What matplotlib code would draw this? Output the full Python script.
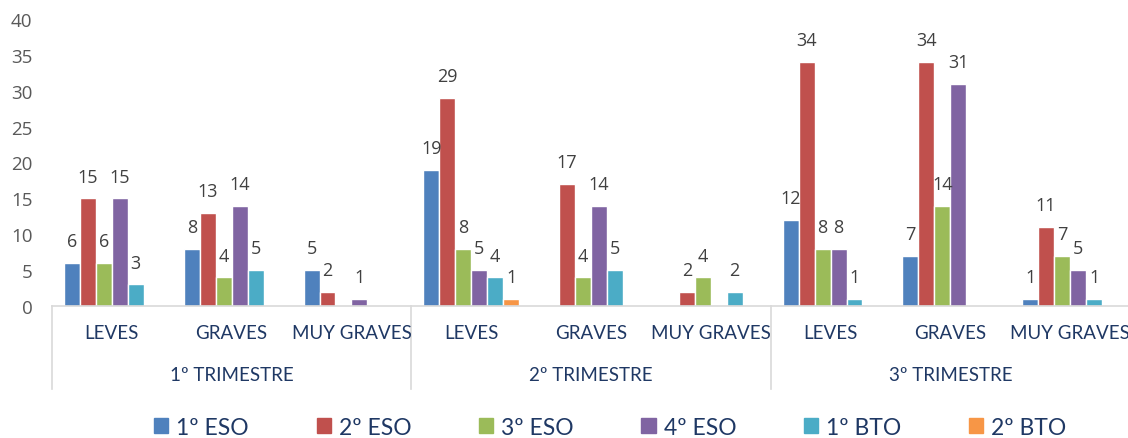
import numpy as np
import matplotlib
matplotlib.use('Agg')
import matplotlib.pyplot as plt
from matplotlib.patches import Patch

# datos por trimestre / tipo de falta
trimestres = ['1º TRIMESTRE', '2º TRIMESTRE', '3º TRIMESTRE']
tipos = ['LEVES', 'GRAVES', 'MUY GRAVES']
cursos = ['1º ESO', '2º ESO', '3º ESO', '4º ESO', '1º BTO', '2º BTO']

# 9 categorias: (T1 leves, graves, muy graves, T2 ..., T3 ...)
eso1 = [6, 8, 5, 19, 0, 0, 12, 7, 1]
eso2 = [15, 13, 2, 29, 17, 2, 34, 34, 11]
eso3 = [6, 4, 0, 8, 4, 4, 8, 14, 7]
eso4 = [15, 14, 1, 5, 14, 0, 8, 31, 5]
bto1 = [3, 5, 0, 4, 5, 2, 1, 0, 1]
bto2 = [0, 0, 0, 1, 0, 0, 0, 0, 0]
series = [eso1, eso2, eso3, eso4, bto1, bto2]

colores = ['#4F81BD', '#C0504D', '#9BBB59', '#8064A2', '#4BACC6', '#F79646']

plt.rcParams['font.family'] = ['Open Sans', 'DejaVu Sans']

fig = plt.figure(figsize=(11.28, 4.39), dpi=100)
ax = fig.add_axes([52 / 1128, 132 / 439, 1078 / 1128, 287 / 439])

n = len(series)
ancho = 0.8 / n
x = np.arange(len(eso1))
for i, (vals, col) in enumerate(zip(series, colores)):
    pos = x - 0.4 + ancho * (i + 0.5)
    ax.bar(pos, vals, width=ancho, color=col, edgecolor='white', linewidth=1)
    for p, v in zip(pos, vals):
        if v > 0:
            ax.annotate(str(v), (p, v), xytext=(0, 12), textcoords='offset points',
                        ha='center', va='baseline', fontsize=13, color='#404040')

ax.set_xlim(-0.5, len(eso1) - 0.5)
ax.set_ylim(0, 40)
ax.set_yticks(range(0, 41, 5))
ax.tick_params(axis='y', length=0, labelsize=13.5, labelcolor='#595959', pad=14)
ax.set_xticks([])
for s in ['top', 'right', 'left']:
    ax.spines[s].set_visible(False)
ax.spines['bottom'].set_color('#D9D9D9')
ax.spines['bottom'].set_linewidth(1.2)

# etiquetas de categorias y trimestres
trans = ax.get_xaxis_transform()
navy = '#1F3864'
for j in range(len(eso1)):
    ax.text(j, -0.093, tipos[j % 3], transform=trans, ha='center', va='center',
            fontsize=13.5, color=navy, family=['Lato', 'DejaVu Sans'])
for k, t in enumerate(trimestres):
    ax.text(3 * k + 1, -0.238, t, transform=trans, ha='center', va='center',
            fontsize=13.5, color=navy, family=['Lato', 'DejaVu Sans'])
for b in [-0.5, 2.5, 5.5, 8.5]:
    ax.plot([b, b], [0, -0.29], transform=trans, color='#D9D9D9', lw=1.2, clip_on=False)

handles = [Patch(color=c) for c in colores]
leg = fig.legend(handles, cursos, loc='center', ncol=6, frameon=False,
                 bbox_to_anchor=(0.541, 0.025), handlelength=0.62,
                 handleheight=0.62, handletextpad=0.35, columnspacing=2.95,
                 prop={'family': ['Lato', 'DejaVu Sans'], 'size': 16.5})
for t in leg.get_texts():
    t.set_color(navy)

fig.savefig('out.png', dpi=100)
